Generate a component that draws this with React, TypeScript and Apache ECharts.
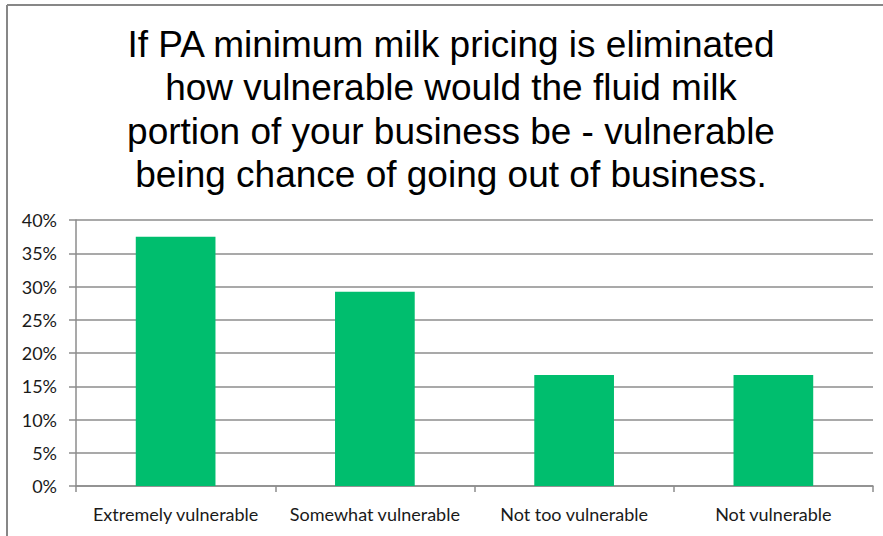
import React, { useEffect, useRef } from "react";
import * as echarts from "echarts";

const categories = ["Extremely vulnerable", "Somewhat vulnerable", "Not too vulnerable", "Not vulnerable"];
const values = [37.5, 29.2, 16.7, 16.7];
const titleLines = [
  "If PA minimum milk pricing is eliminated",
  "how vulnerable would the fluid milk",
  "portion of your business be - vulnerable",
  "being chance of going out of business.",
];

export default function App() {
  const ref = useRef<HTMLDivElement>(null);
  useEffect(() => {
    if (!ref.current) return;
    const chart = echarts.init(ref.current, null, { renderer: "svg" });
    const titleTexts = titleLines.map((t, i) => ({
      type: "text",
      x: 451,
      y: 44.5 + i * 43.4,
      silent: true,
      style: {
        text: t,
        fontFamily: "Liberation Sans",
        fontSize: 37,
        fill: "#000000",
        textAlign: "center",
        textVerticalAlign: "middle",
      },
    }));
    chart.setOption({
      animation: false,
      backgroundColor: "#ffffff",
      graphic: [
        {
          type: "line",
          shape: { x1: 7, y1: 5, x2: 883, y2: 5 },
          style: { stroke: "#878787", lineWidth: 2 },
          silent: true,
        },
        {
          type: "line",
          shape: { x1: 7, y1: 5, x2: 7, y2: 536 },
          style: { stroke: "#878787", lineWidth: 2 },
          silent: true,
        },
        ...titleTexts,
      ],
      grid: { left: 76, right: 10, top: 220, bottom: 50 },
      xAxis: {
        type: "category",
        data: categories,
        axisLine: { lineStyle: { color: "#8c8c8c", width: 1.5 } },
        axisTick: { show: true, length: 6, lineStyle: { color: "#8c8c8c", width: 1.5 } },
        axisLabel: { interval: 0, fontFamily: "Lato", fontSize: 18, color: "#1a1a1a", margin: 19 },
      },
      yAxis: {
        type: "value",
        min: 0,
        max: 40,
        interval: 5,
        axisLine: { show: true, lineStyle: { color: "#8c8c8c", width: 1.5 } },
        axisTick: { show: true, length: 7, lineStyle: { color: "#8c8c8c", width: 1.5 } },
        splitLine: { lineStyle: { color: "#8c8c8c", width: 1.5 } },
        axisLabel: {
          formatter: (v: number) => v + "%",
          fontFamily: "Lato",
          fontSize: 18,
          color: "#1a1a1a",
          margin: 19,
        },
      },
      series: [
        {
          type: "bar",
          data: values,
          barWidth: "40%",
          itemStyle: { color: "#00be6e" },
        },
      ],
    });
    return () => chart.dispose();
  }, []);
  return <div ref={ref} style={{ position: "absolute", left: 0, top: 0, width: 883, height: 536 }} />;
}
